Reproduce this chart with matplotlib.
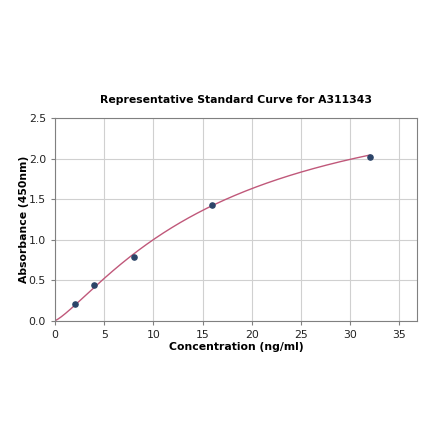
import numpy as np
import matplotlib
matplotlib.use("Agg")
import matplotlib.pyplot as plt

conc = [2, 4, 8, 16, 32]
absorb = [0.20, 0.44, 0.78, 1.43, 2.02]

# 4PL fit parameters (estimated from the reference curve)
fit_a, fit_b, fit_c, fit_d = 0.0, 1.25, 17.4, 3.0

def four_pl(x):
    return fit_d + (fit_a - fit_d) / (1 + (x / fit_c) ** fit_b)

fig = plt.figure(figsize=(4.4, 4.41), dpi=100)
ax = fig.add_axes([0.125, 0.273, 0.823, 0.459])

xs = np.linspace(0, max(conc), 300)
ax.plot(xs, four_pl(xs), color="#c0587a", lw=1.0, zorder=2)
ax.scatter(conc, absorb, s=14, color="#2b4468", zorder=3)

ax.set_xlim(0, 36.8)
ax.set_ylim(0, 2.5)
ax.set_xticks([0, 5, 10, 15, 20, 25, 30, 35])
ax.set_yticks([0.0, 0.5, 1.0, 1.5, 2.0, 2.5])
ax.grid(True, color="#d0d0d0", lw=0.8)
ax.set_axisbelow(True)
for s in ax.spines.values():
    s.set_color("#808080")
ax.tick_params(labelsize=7.8, color="#808080", length=3, labelcolor="#222222")

ax.set_title("Representative Standard Curve for A311343", fontsize=7.8, fontweight="bold", pad=11)
ax.set_xlabel("Concentration (ng/ml)", fontsize=7.8, fontweight="bold", labelpad=2)
ax.set_ylabel("Absorbance (450nm)", fontsize=7.8, fontweight="bold", labelpad=0)

fig.savefig("out.png", dpi=100)
